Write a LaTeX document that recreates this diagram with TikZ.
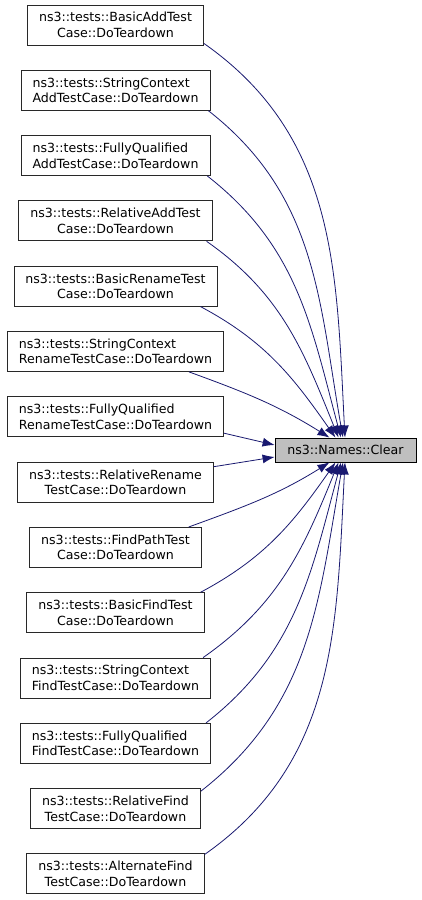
\documentclass[tikz,border=0pt]{standalone}
\usepackage{fontspec}
\setmainfont{DejaVu Sans}
\usetikzlibrary{arrows.meta}

\begin{document}
\begin{tikzpicture}[x=1pt,y=1pt,
  caller/.style={draw=boxColor,line width=0.8pt,fill=white,minimum height=40pt,inner xsep=11.5pt,inner ysep=0pt,align=center,font=\fontsize{12.6}{15.5}\selectfont},
  callee/.style={draw=black,line width=0.8pt,fill=calleeColor,minimum width=141pt,minimum height=24pt,inner sep=0pt,font=\fontsize{12.6}{15.5}\selectfont},
  call/.style={draw=edgeColor,line width=0.8pt,-{Latex[length=12pt,width=9pt]}}]
\definecolor{fillColor}{RGB}{255,255,255}
\definecolor{boxColor}{RGB}{40,40,40}
\definecolor{calleeColor}{RGB}{191,191,191}
\definecolor{edgeColor}{RGB}{25,25,112}
\path[use as bounding box,fill=fillColor] (0,0) rectangle (421,900);

\node[callee] (clear) at (345.5,450) {ns3::Names::Clear};

\node[caller] (basicAdd) at (115.5,875.0) {ns3::tests::BasicAddTest\\Case::DoTeardown};
\node[caller,align=left] (stringAdd) at (115.5,809.7) {ns3::tests::StringContext\\AddTestCase::DoTeardown};
\node[caller,align=left] (fullyAdd) at (115.5,744.4) {ns3::tests::FullyQualified\\AddTestCase::DoTeardown};
\node[caller] (relativeAdd) at (115.5,679.1) {ns3::tests::RelativeAddTest\\Case::DoTeardown};
\node[caller] (basicRename) at (115.5,613.8) {ns3::tests::BasicRenameTest\\Case::DoTeardown};
\node[caller,align=left] (stringRename) at (115.5,548.5) {ns3::tests::StringContext\\RenameTestCase::DoTeardown};
\node[caller,align=left] (fullyRename) at (115.5,483.2) {ns3::tests::FullyQualified\\RenameTestCase::DoTeardown};
\node[caller] (relativeRename) at (115.5,417.9) {ns3::tests::RelativeRename\\TestCase::DoTeardown};
\node[caller] (findPath) at (115.5,352.6) {ns3::tests::FindPathTest\\Case::DoTeardown};
\node[caller] (basicFind) at (115.5,287.3) {ns3::tests::BasicFindTest\\Case::DoTeardown};
\node[caller,align=left] (stringFind) at (115.5,222.0) {ns3::tests::StringContext\\FindTestCase::DoTeardown};
\node[caller,align=left] (fullyFind) at (115.5,156.7) {ns3::tests::FullyQualified\\FindTestCase::DoTeardown};
\node[caller] (relativeFind) at (115.5,91.4) {ns3::tests::RelativeFind\\TestCase::DoTeardown};
\node[caller] (alternateFind) at (115.5,26.1) {ns3::tests::AlternateFind\\TestCase::DoTeardown};

\draw[call] ([yshift=2pt]basicAdd.south east) to[out=-35,in=93] ([xshift=-0.5pt]clear.north);
\draw[call] ([xshift=-2pt]stringAdd.south east) to[out=-38,in=100] ([xshift=-2.5pt]clear.north);
\draw[call] ([xshift=-3pt]fullyAdd.south east) to[out=-38,in=105] ([xshift=-4.5pt]clear.north);
\draw[call] ([xshift=-6pt]relativeAdd.south east) to[out=-35,in=112] ([xshift=-7pt]clear.north);
\draw[call] ([xshift=-17pt]basicRename.south east) to[out=-28,in=125] ([xshift=-10pt]clear.north);
\draw[call] ([xshift=-35pt]stringRename.south east) to[out=-20,in=148] ([xshift=-16pt]clear.north);
\draw[call] ([yshift=4pt]fullyRename.south east) -- ([yshift=5pt]clear.west);
\draw[call] ([yshift=-5pt]relativeRename.north east) -- ([yshift=-7pt]clear.west);
\draw[call] ([xshift=-13pt]findPath.north east) to[out=20,in=-148] ([xshift=-16pt]clear.south);
\draw[call] ([xshift=-4pt]basicFind.north east) to[out=28,in=-125] ([xshift=-10pt]clear.south);
\draw[call] ([xshift=-8pt]stringFind.north east) to[out=35,in=-112] ([xshift=-7pt]clear.south);
\draw[call] ([xshift=-5pt]fullyFind.north east) to[out=38,in=-105] ([xshift=-4.5pt]clear.south);
\draw[call] ([yshift=-3pt]relativeFind.north east) to[out=38,in=-100] ([xshift=-2.5pt]clear.south);
\draw[call] ([yshift=-1pt]alternateFind.north east) to[out=35,in=-93] ([xshift=-0.5pt]clear.south);
\end{tikzpicture}
\end{document}
